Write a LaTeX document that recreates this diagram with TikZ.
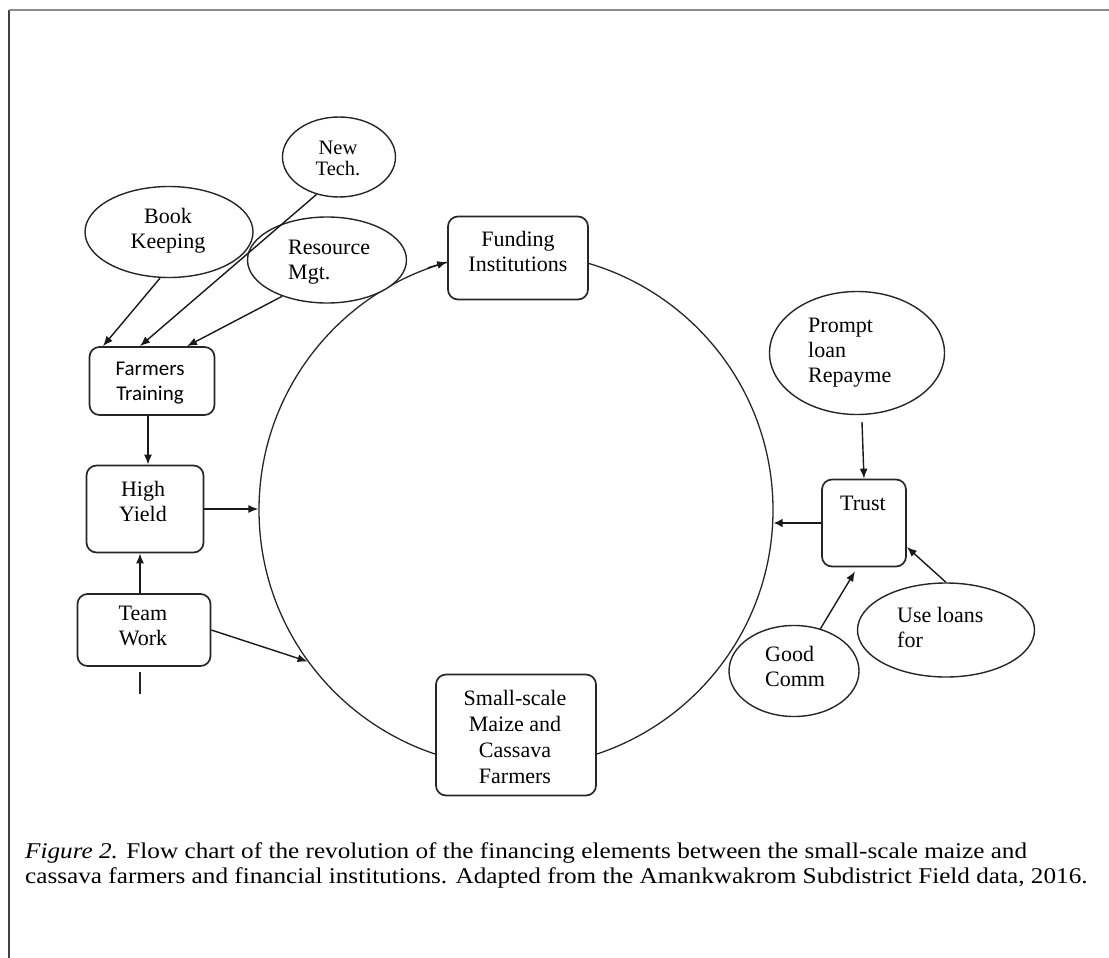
\documentclass[tikz,border=0pt]{standalone}
\usepackage{graphicx}
\usepackage{fontspec}
\setmainfont{Liberation Serif}
\newfontfamily\calib{Carlito}
\usetikzlibrary{arrows.meta,shapes.geometric}
\begin{document}
\begin{tikzpicture}[x=1pt,y=-1pt,
  box/.style={draw=black!85, line width=1.7pt, rounded corners=10pt, fill=white, inner sep=0pt},
  oval/.style={draw=black!85, line width=1.4pt, ellipse, fill=white, inner sep=0pt},
  txt/.style={font=\fontsize{22}{25}\selectfont, align=center, inner sep=0pt},
  ltxt/.style={font=\fontsize{22}{25}\selectfont, align=left, inner sep=0pt, anchor=west},
  arr/.style={draw=black!90, line width=1.4pt, -{Latex[length=10pt,width=8pt]}},
  captxt/.style={font=\fontsize{22.5}{25}\selectfont, inner sep=0pt, anchor=base west},
]
\useasboundingbox (0,0) rectangle (1109,958);
% frame
\coordinate (f0) at (9,958);
\coordinate (f1) at (9,10);
\coordinate (f2) at (1109,10);
\draw[black!75, line width=2pt] (f0) -- (f1);
\draw[black!45, line width=2pt] (f1) -- (f2);

% big circle
\node[circle, draw=black!85, line width=1.3pt, minimum size=514pt, inner sep=0pt] (C) at (516,510) {};

% shapes
\node[oval, minimum width=113pt, minimum height=80pt] (newtech) at (339,157) {};
\node[oval, minimum width=168pt, minimum height=91pt] (book) at (169,232) {};
\node[oval, minimum width=159pt, minimum height=86pt] (res) at (327,260) {};
\node[box, minimum width=125pt, minimum height=68pt] (ft) at (152,381) {};
\node[box, minimum width=140pt, minimum height=83pt] (fund) at (518,258) {};
\node[box, minimum width=117pt, minimum height=87pt] (hy) at (145,509) {};
\node[box, minimum width=133pt, minimum height=72pt] (tw) at (144,630) {};
\node[box, minimum width=160pt, minimum height=121pt] (ss) at (516,735) {};
\node[oval, minimum width=175pt, minimum height=123pt] (prompt) at (857,353) {};
\node[box, minimum width=84pt, minimum height=87pt] (trust) at (864,523) {};
\node[oval, minimum width=177pt, minimum height=94pt] (use) at (946,630) {};
\node[oval, minimum width=130pt, minimum height=91pt] (good) at (794,671) {};

% texts
\node[txt, font=\fontsize{20.5}{21}\selectfont] (tnewtech) at (338,158) {New\\Tech.};
\node[txt] (tbook) at (168,231) {Book\\Keeping};
\node[ltxt] (tres) at (288,262) {Resource\\Mgt.};
\node[txt, font=\calib\fontsize{21}{25}\selectfont] (tft) at (150,383) {Farmers\\Training};
\node[txt] (tfund) at (518,251) {Funding\\Institutions};
\node[txt] (thy) at (143,501) {High\\Yield};
\node[txt] (ttw) at (143,626) {Team\\Work};
\node[txt, font=\fontsize{22}{26}\selectfont] (tss) at (515,737) {Small-scale\\Maize and\\Cassava\\Farmers};
\node[ltxt] (tprompt) at (808,353) {Prompt\\loan\\Repayme};
\node[txt] (ttrust) at (863,503) {Trust};
\node[ltxt] (tuse) at (897,627) {Use loans\\for};
\node[ltxt] (tgood) at (765,666) {Good\\Comm};

% connectors
\draw[arr] ([xshift=-9pt]book.south) -- ([xshift=-49pt]ft.north);
\draw[arr] (newtech.-121) -- ([xshift=-12pt]ft.north);
\draw[arr] (res.-141) -- ([xshift=35pt]ft.north);
\draw[arr] ([xshift=-4pt]ft.south) -- ([xshift=3pt]hy.north);
\draw[arr] ([xshift=-4pt]tw.north) -- ([xshift=-5pt]hy.south);
\draw[arr] (hy.east) -- (hy.east -| C.west);
\draw[arr] (tw.east) -- (C.216);
\draw[arr] (C.110) -- ([yshift=-4pt]fund.west);
\draw[arr] ([xshift=5pt,yshift=-7pt]prompt.south) -- (trust.north);
\draw[arr, line width=2.8pt, -{Latex[length=9pt,width=9pt]}] (trust.west) -- (trust.west -| C.east);
\draw[arr] (good.58) -- ([xshift=-9pt,yshift=-4pt]trust.south);
\draw[arr] (use.north) -- ([yshift=-24pt]trust.east);

% stray mark
\coordinate (s1) at (140,672);
\coordinate (s2) at (140,694);
\draw[black!85, line width=1.4pt] (s1) -- (s2);

% caption
\node[captxt] (cap1) at (25,858) {\scalebox{1.12}[1]{\textit{Figure 2.} Flow chart of the revolution of the financing elements between the small-scale maize and}};
\node[captxt] (cap2) at (25,883) {\scalebox{1.12}[1]{cassava farmers and financial institutions. Adapted from the Amankwakrom Subdistrict Field data, 2016.}};
\end{tikzpicture}
\end{document}
